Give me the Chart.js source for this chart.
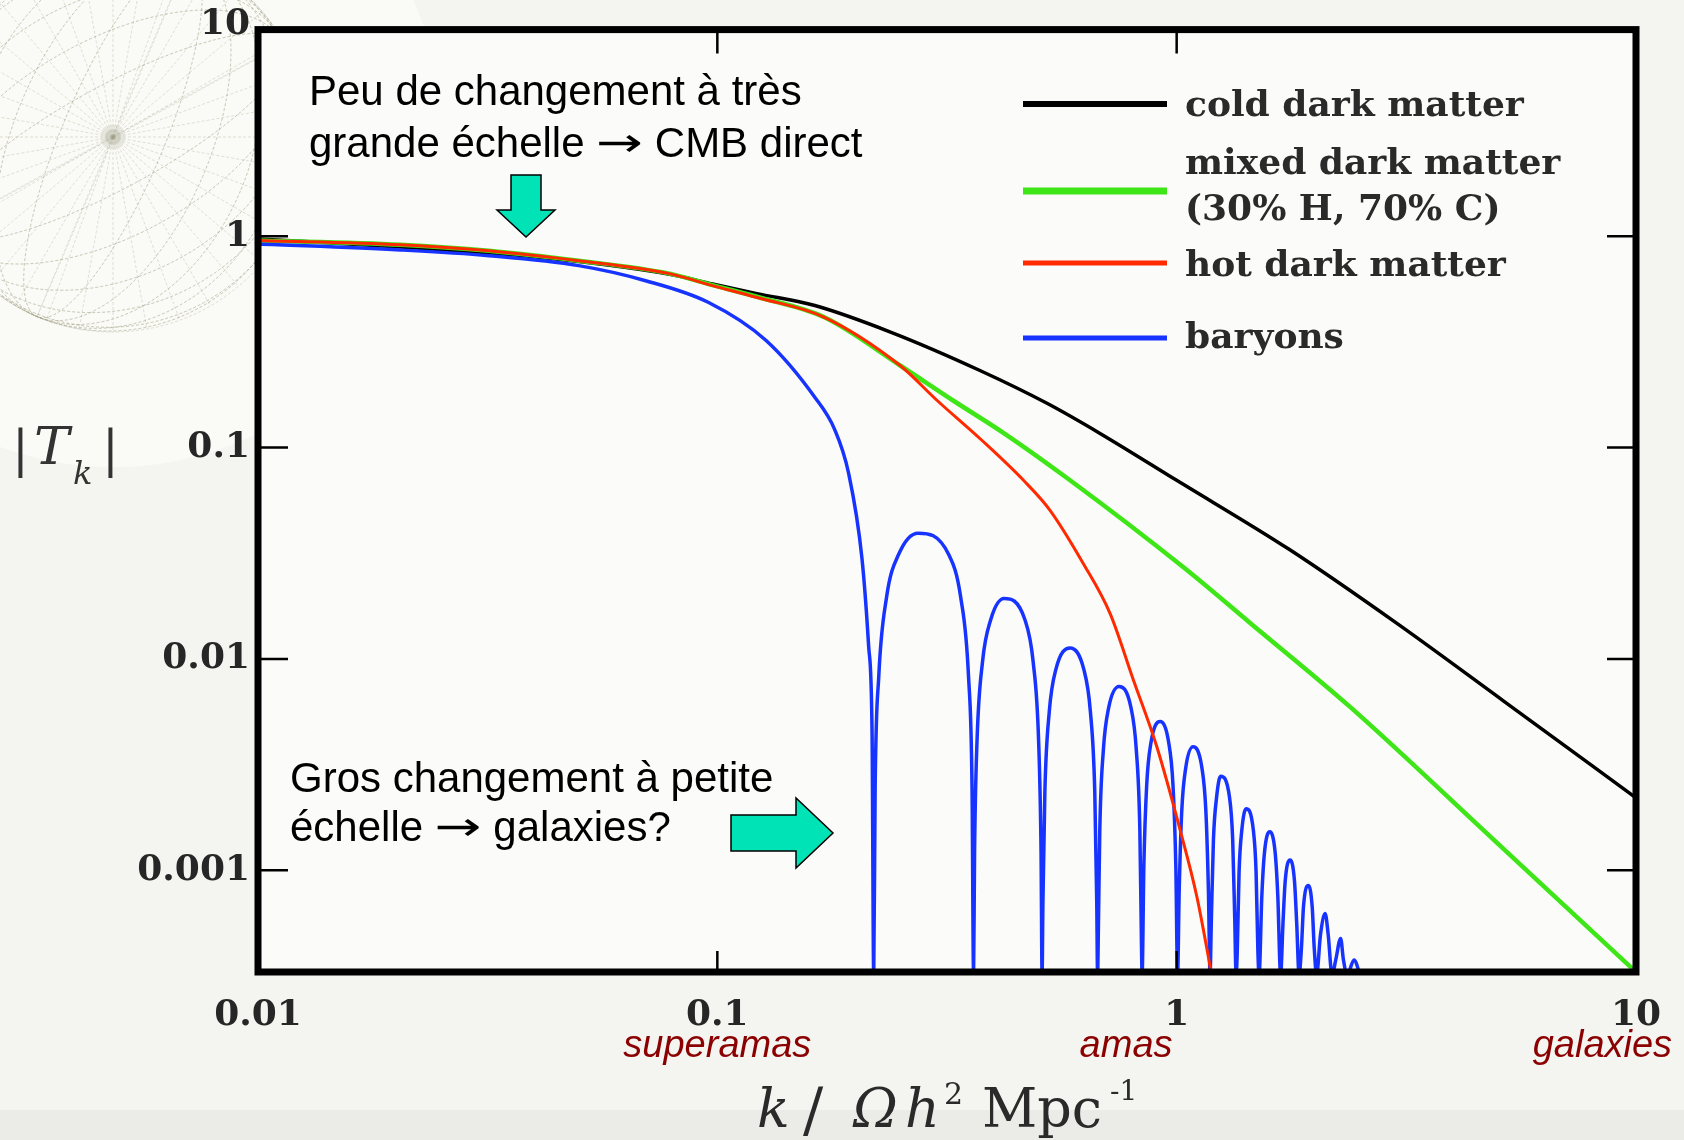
<!DOCTYPE html>
<html>
<head>
<meta charset="utf-8">
<script src="https://cdn.jsdelivr.net/npm/chart.js@4.4.1/dist/chart.umd.min.js"></script>
<style>
html,body{margin:0;padding:0;background:#f5f5f1;}
canvas{display:block;}
</style>
</head>
<body>
<canvas id="c" width="1684" height="1140"></canvas>
<script>
// ---------------- data ----------------
const seriesNames = ['cold dark matter', 'mixed dark matter\n(30% H, 70% C)', 'hot dark matter', 'baryons'];

const kTicks = [0.01, 0.1, 1, 10];
const kTickLabels = ['0.01', '0.1', '1', '10'];
const tTicks = [0.001, 0.01, 0.1, 1, 10];
const tTickLabels = ['0.001', '0.01', '0.1', '1', '10'];

const kCold = [0.01, 0.0204, 0.0399, 0.0782, 0.0976, 0.122, 0.163, 0.239, 0.373, 0.522, 0.681, 1.0, 1.757, 3.006, 5.16, 10];
const tCold = [0.97, 0.89, 0.80, 0.663, 0.594, 0.535, 0.47, 0.351, 0.2316, 0.162, 0.1167, 0.070, 0.0330, 0.0148, 0.0063, 0.0022];

const kMixed = [0.01, 0.0204, 0.0318, 0.0499, 0.0782, 0.0976, 0.122, 0.171, 0.25, 0.326, 0.418, 0.586, 1.033, 1.445, 2.385, 4.89, 10];
const tMixed = [0.955, 0.912, 0.854, 0.766, 0.667, 0.587, 0.517, 0.4135, 0.2445, 0.167, 0.118, 0.070, 0.0272, 0.0148, 0.00593, 0.0014, 0.00033];

const kHot = [0.01, 0.0204, 0.0318, 0.0499, 0.0782, 0.0976, 0.122, 0.171, 0.25, 0.301, 0.377, 0.464, 0.53, 0.626, 0.716, 0.805, 0.905, 1.017, 1.106, 1.182, 1.206];
const tHot = [0.955, 0.912, 0.854, 0.766, 0.667, 0.584, 0.513, 0.4135, 0.2445, 0.167, 0.108, 0.070, 0.0505, 0.0283, 0.01642, 0.00795, 0.00385, 0.001556, 0.000753, 0.000352, 0.000273];

const kBary = [
  0.01, 0.0204, 0.0318, 0.0499, 0.0698, 0.0955, 0.1277, 0.163, 0.18, 0.193, 0.2065, 0.2135, 0.2172, 0.219,
  0.2206, 0.2246, 0.2337, 0.2482, 0.2735, 0.3187, 0.3385, 0.3523, 0.3585, 0.3613,
  0.3631, 0.3675, 0.3778, 0.3937, 0.4209, 0.4674, 0.4871, 0.5007, 0.5067, 0.5093,
  0.5115, 0.5165, 0.5281, 0.546, 0.5861, 0.6276, 0.6488, 0.6633, 0.6699, 0.6727,
  0.6749, 0.6802, 0.6925, 0.7112, 0.7491, 0.7952, 0.8168, 0.8315, 0.838, 0.8409,
  0.8484, 0.8605, 0.879, 0.9203, 0.961, 0.9817, 0.9957, 1.0046,
  1.0128, 1.0261, 1.0464, 1.0856, 1.135, 1.1574, 1.1726, 1.1822,
  1.1899, 1.2024, 1.2214, 1.2462, 1.3036, 1.3242, 1.3381, 1.347,
  1.3548, 1.3673, 1.3864, 1.4161, 1.4685, 1.489, 1.5028, 1.5115,
  1.5328, 1.5528, 1.5946, 1.6386, 1.66, 1.6839,
  1.7039, 1.723, 1.7656, 1.8051, 1.8253, 1.8471,
  1.8686, 1.8884, 1.9364, 1.9726, 1.9935, 2.0166,
  2.0566, 2.105, 2.1374, 2.1791,
  2.2206, 2.275, 2.3065, 2.3496,
  2.4333, 2.5079
];
const tBary = [
  0.92, 0.861, 0.809, 0.726, 0.616, 0.487, 0.321, 0.173, 0.122, 0.076, 0.0298, 0.0115, 0.0045, 0.00032,
  0.002483, 0.008222, 0.01972, 0.03126, 0.03936, 0.03126, 0.01972, 0.008222, 0.002483, 0.00032,
  0.001217, 0.00403, 0.009667, 0.01532, 0.01929, 0.01532, 0.009667, 0.00403, 0.001217, 0.00032,
  0.00071, 0.002352, 0.005642, 0.008944, 0.01126, 0.008944, 0.005642, 0.002352, 0.00071, 0.00032,
  0.000467, 0.001547, 0.003712, 0.005883, 0.007406, 0.005883, 0.003712, 0.001547, 0.000467, 0.00032,
  0.001055, 0.002531, 0.004011, 0.00505, 0.004011, 0.002531, 0.001055, 0.00032,
  0.000801, 0.001922, 0.003047, 0.003836, 0.003047, 0.001922, 0.000801, 0.00032,
  0.000581, 0.001395, 0.00221, 0.002782, 0.00221, 0.001395, 0.000581, 0.00032,
  0.000408, 0.00098, 0.001552, 0.001954, 0.001552, 0.00098, 0.000408, 0.00032,
  0.000763, 0.001209, 0.001521, 0.001209, 0.000763, 0.00032,
  0.000561, 0.000889, 0.001119, 0.000889, 0.000561, 0.00032,
  0.000424, 0.000672, 0.000846, 0.000672, 0.000424, 0.00032,
  0.000496, 0.000624, 0.000496, 0.00032,
  0.000378, 0.000476, 0.000378, 0.00032,
  0.000376, 0.00032
];

const scaleWords = ['superamas', 'amas', 'galaxies'];
const scaleWordK = [0.1, 0.776, 8.45];

const noteTop = ['Peu de changement à très', ['grande échelle ', '→', ' CMB direct']];
const noteBottom = ['Gros changement à petite', ['échelle ', '→', ' galaxies?']];

// ---------------- helpers ----------------
const pts = (ks, ts) => ks.map((k, i) => ({ x: k, y: ts[i] }));
const SERIF = '"DejaVu Serif", "Liberation Serif", serif';
const SANS = '"Liberation Sans", Arial, sans-serif';
const ARROWFONT = '"DejaVu Sans", sans-serif';

function drawSphere(ctx) {
  const cx = 113, cy = 137, R = 195;
  ctx.save();
  ctx.fillStyle = '#fafaf7';
  ctx.beginPath(); ctx.arc(cx, cy, 330, 0, Math.PI * 2); ctx.fill();
  ctx.strokeStyle = 'rgba(150,150,120,0.28)';
  ctx.lineWidth = 1;
  ctx.setLineDash([3, 2]);
  ctx.beginPath(); ctx.arc(cx, cy, R, 0, Math.PI * 2); ctx.stroke();
  for (let i = 1; i < 12; i++) {
    const a = i * Math.PI / 12;
    ctx.beginPath(); ctx.ellipse(cx, cy, Math.abs(R * Math.cos(a)) + 0.5, R, 0.4, 0, Math.PI * 2); ctx.stroke();
    ctx.beginPath(); ctx.ellipse(cx, cy, R, Math.abs(R * Math.cos(a)) + 0.5, -0.5, 0, Math.PI * 2); ctx.stroke();
  }
  for (let j = 0; j < 36; j++) {
    const a = j * Math.PI / 18;
    ctx.beginPath(); ctx.moveTo(cx, cy); ctx.lineTo(cx + R * Math.cos(a), cy + R * Math.sin(a)); ctx.stroke();
  }
  ctx.setLineDash([]);
  const g = ctx.createRadialGradient(cx, cy, 0, cx, cy, 14);
  g.addColorStop(0, 'rgba(160,160,140,0.6)'); g.addColorStop(1, 'rgba(160,160,140,0)');
  ctx.fillStyle = g; ctx.beginPath(); ctx.arc(cx, cy, 14, 0, Math.PI * 2); ctx.fill();
  ctx.restore();
}

// a line of text whose middle part is an arrow glyph, widened to the reference width
function drawNote(ctx, parts, x, y) {
  let cx = x;
  ctx.font = '42px ' + SANS;
  ctx.fillText(parts[0], cx, y);
  cx += ctx.measureText(parts[0]).width;
  ctx.font = '40px ' + ARROWFONT;
  const aw = ctx.measureText(parts[1]).width;
  ctx.save();
  ctx.translate(cx, y);
  ctx.scale(1.4, 1);
  ctx.fillText(parts[1], 0, -1);
  ctx.restore();
  cx += aw * 1.4;
  ctx.font = '42px ' + SANS;
  ctx.fillText(parts[2], cx, y);
}

const legendLayout = [
  { lineY: 104, width: 6, baselines: [116] },
  { lineY: 191, width: 7, baselines: [174, 220] },
  { lineY: 263, width: 5, baselines: [276] },
  { lineY: 338, width: 5, baselines: [348] }
];

const decor = {
  id: 'decor',
  beforeDraw(chart) {
    const ctx = chart.ctx;
    const a = chart.chartArea;
    ctx.save();
    ctx.fillStyle = '#f4f4f0';
    ctx.fillRect(0, 0, chart.width, chart.height);
    drawSphere(ctx);
    ctx.fillStyle = '#ebebe7';
    ctx.fillRect(0, 1110, chart.width, 30);
    ctx.fillStyle = '#fbfbf9';
    ctx.fillRect(a.left, a.top, a.right - a.left, a.bottom - a.top);
    ctx.restore();
  },
  afterDatasetsDraw(chart) {
    const ctx = chart.ctx;
    const a = chart.chartArea;
    const xs = chart.scales.x, ys = chart.scales.y;
    ctx.save();
    // frame
    ctx.strokeStyle = '#000';
    ctx.lineWidth = 7;
    ctx.strokeRect(a.left, a.top, a.right - a.left, a.bottom - a.top);
    // inward ticks
    ctx.lineWidth = 2.5;
    ctx.beginPath();
    kTicks.forEach(v => {
      const px = xs.getPixelForValue(v);
      if (px <= a.left + 5 || px >= a.right - 5) return;
      ctx.moveTo(px, a.bottom); ctx.lineTo(px, a.bottom - 21);
      ctx.moveTo(px, a.top); ctx.lineTo(px, a.top + 24);
    });
    tTicks.forEach(v => {
      const py = ys.getPixelForValue(v);
      if (py <= a.top + 5 || py >= a.bottom - 5) return;
      ctx.moveTo(a.left, py); ctx.lineTo(a.left + 30, py);
      ctx.moveTo(a.right, py); ctx.lineTo(a.right - 29, py);
    });
    ctx.stroke();

    // legend
    chart.data.datasets.forEach((ds, i) => {
      const L = legendLayout[i];
      ctx.strokeStyle = ds.borderColor;
      ctx.lineWidth = L.width;
      ctx.beginPath(); ctx.moveTo(1023, L.lineY); ctx.lineTo(1167, L.lineY); ctx.stroke();
      ctx.fillStyle = '#2a2a2a';
      ctx.font = 'bold 36px ' + SERIF;
      ctx.textAlign = 'left';
      ctx.textBaseline = 'alphabetic';
      ds.label.split('\n').forEach((t, j) => ctx.fillText(t, 1185, L.baselines[j]));
    });

    // annotations
    ctx.fillStyle = '#000';
    ctx.font = '42px ' + SANS;
    ctx.textAlign = 'left';
    ctx.fillText(noteTop[0], 309, 105);
    drawNote(ctx, noteTop[1], 309, 157);
    ctx.font = '42px ' + SANS;
    ctx.fillText(noteBottom[0], 290, 792);
    drawNote(ctx, noteBottom[1], 290, 841);

    // arrows
    ctx.fillStyle = '#00e3b7';
    ctx.strokeStyle = '#000';
    ctx.lineWidth = 1.5;
    ctx.beginPath();
    ctx.moveTo(511, 175); ctx.lineTo(541, 175); ctx.lineTo(541, 210); ctx.lineTo(555, 210);
    ctx.lineTo(526, 237); ctx.lineTo(497, 210); ctx.lineTo(511, 210); ctx.closePath();
    ctx.fill(); ctx.stroke();
    ctx.beginPath();
    ctx.moveTo(731, 815); ctx.lineTo(796, 815); ctx.lineTo(796, 798); ctx.lineTo(833, 833);
    ctx.lineTo(796, 868); ctx.lineTo(796, 851); ctx.lineTo(731, 851); ctx.closePath();
    ctx.fill(); ctx.stroke();
    ctx.restore();
  },
  afterDraw(chart) {
    const ctx = chart.ctx;
    const xs = chart.scales.x;
    ctx.save();
    // scale words
    ctx.fillStyle = '#8b0000';
    ctx.font = 'italic 38px ' + SANS;
    ctx.textAlign = 'center';
    ctx.textBaseline = 'alphabetic';
    scaleWords.forEach((w, i) => ctx.fillText(w, xs.getPixelForValue(scaleWordK[i]), 1057));

    // y title |T_k|
    ctx.fillStyle = '#333';
    ctx.textAlign = 'left';
    ctx.font = '50px ' + SERIF;
    ctx.fillText('|', 12, 466);
    ctx.fillText('|', 102, 466);
    ctx.font = 'italic 53px ' + SERIF;
    ctx.fillText('T', 34, 464);
    ctx.font = 'italic 32px ' + SERIF;
    ctx.fillText('k', 73, 484);

    // x title k / Ωh² Mpc⁻¹
    ctx.fillStyle = '#2a2a2a';
    ctx.font = 'italic 54px ' + SERIF;
    ctx.fillText('k', 757, 1127);
    ctx.font = '60px ' + SERIF;
    ctx.fillText('/', 803, 1130);
    ctx.font = 'italic 54px ' + SERIF;
    ctx.fillText('Ω', 853, 1127);
    ctx.fillText('h', 905, 1127);
    ctx.font = '30px ' + SERIF;
    ctx.fillText('2', 944, 1104);
    ctx.font = '54px ' + SERIF;
    ctx.fillText('Mpc', 982, 1127);
    ctx.font = '28px ' + SERIF;
    ctx.fillText('-1', 1110, 1100);
    ctx.restore();
  }
};

function labelFor(v, vals, labels) {
  for (let i = 0; i < vals.length; i++) {
    if (Math.abs(vals[i] - v) / vals[i] < 1e-6) return labels[i];
  }
  return '';
}

const chart = new Chart(document.getElementById('c'), {
  type: 'line',
  data: {
    datasets: [
      { label: seriesNames[0], data: pts(kCold, tCold), borderColor: '#000000', borderWidth: 3.5, order: 3 },
      { label: seriesNames[1], data: pts(kMixed, tMixed), borderColor: '#3ee617', borderWidth: 4.5, order: 2 },
      { label: seriesNames[2], data: pts(kHot, tHot), borderColor: '#ff2a00', borderWidth: 3, order: 0 },
      { label: seriesNames[3], data: pts(kBary, tBary), borderColor: '#1733ff', borderWidth: 3.5, order: 1 }
    ]
  },
  options: {
    responsive: false,
    animation: false,
    devicePixelRatio: 1,
    events: [],
    layout: { padding: { left: 0, right: 48, top: 28, bottom: 0 } },
    elements: {
      point: { radius: 0 },
      line: { cubicInterpolationMode: 'monotone', capBezierPoints: false, fill: false }
    },
    plugins: { legend: { display: false }, tooltip: { enabled: false }, title: { display: false } },
    scales: {
      x: {
        type: 'logarithmic',
        position: 'bottom',
        min: 0.01,
        max: 10,
        bounds: 'data',
        grid: { display: false, drawTicks: false },
        border: { display: false },
        afterBuildTicks: (s) => { s.ticks = kTicks.map(v => ({ value: v })); },
        afterFit: (s) => { s.height = 168; },
        ticks: {
          autoSkip: false,
          maxRotation: 0,
          padding: 22,
          color: '#262626',
          font: { family: SERIF, size: 36, weight: 'bold' },
          callback: (v) => labelFor(v, kTicks, kTickLabels)
        }
      },
      y: {
        type: 'logarithmic',
        position: 'left',
        min: 0.00033,
        max: 9.5,
        bounds: 'data',
        grid: { display: false, drawTicks: false },
        border: { display: false },
        afterBuildTicks: (s) => { s.ticks = tTicks.map(v => ({ value: v })); },
        afterFit: (s) => { s.width = 258; },
        ticks: {
          autoSkip: false,
          padding: 8,
          color: '#262626',
          font: { family: SERIF, size: 36, weight: 'bold' },
          callback: (v) => labelFor(v, tTicks, tTickLabels)
        }
      }
    }
  },
  plugins: [decor]
});
</script>
</body>
</html>
